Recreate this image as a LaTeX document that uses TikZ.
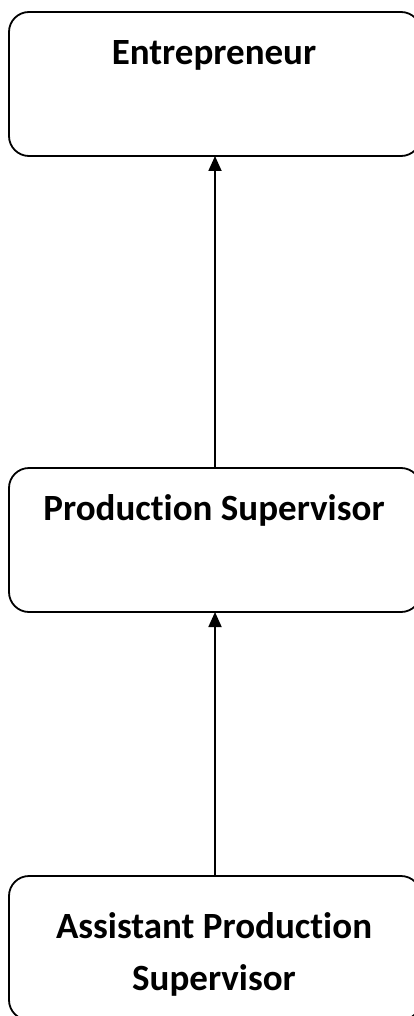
\documentclass[tikz,border=0pt]{standalone}
\usepackage{fontspec}
\setmainfont[Ligatures=NoCommon]{Carlito}
\usetikzlibrary{arrows.meta}
\begin{document}
\begin{tikzpicture}[x=1pt,y=-1pt,
  box/.style={draw=black,line width=1.8pt,rounded corners=20pt,minimum width=412pt,minimum height=144pt,inner sep=0pt,outer sep=0pt},
  lbl/.style={font=\fontsize{37}{44}\selectfont\bfseries,anchor=base,inner sep=0pt},
  arr/.style={line width=1.8pt,-{Triangle[width=13pt,length=15pt]}}]
\useasboundingbox (0,0) rectangle (413,1016);
\node[box] (top) at (215,84) {};
\node[box] (mid) at (215,540) {};
\node[box] (bot) at (215,948) {};
\node[lbl] (t1) at (214,65) {Entrepreneur};
\node[lbl] (t2) at (214,520) {Production Supervisor};
\node[lbl] (t3) at (214,938) {Assistant Production};
\node[lbl] (t4) at (214,990) {Supervisor};
\draw[arr] (mid.north) -- (top.south);
\draw[arr] (bot.north) -- (mid.south);
\end{tikzpicture}
\end{document}
